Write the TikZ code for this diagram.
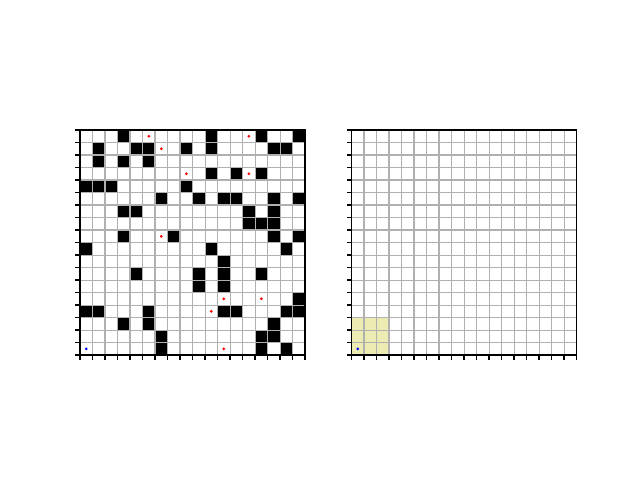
\documentclass[tikz,border=0pt]{standalone}
\usetikzlibrary{positioning}
\definecolor{gridgray}{rgb}{0.69,0.69,0.69}
\definecolor{seenyellow}{rgb}{0.92,0.92,0.70}

\begin{document}
\begin{tikzpicture}[x=0.025cm, y=-0.025cm, line width=0.75pt,
                cell/.style={x=0.3125cm, y=-0.3125cm},
                wall/.style={fill=black},
                seen/.style={fill=seenyellow},
                lines/.style={gridgray, line width=0.75pt},
                frame/.style={black, line width=0.8pt},
                goal/.style={fill=red},
                agent/.style={fill=blue}]

    \useasboundingbox (0,0) rectangle (640,480);

    %mapa: paredes, objetivos y agente
    \begin{scope}[shift={(80,130)}, cell]
        \foreach \r/\c in {0/3,0/10,0/14,0/17, 1/1,1/4,1/5,1/8,1/10,1/15,1/16, 2/1,2/3,2/5,
                3/10,3/12,3/14, 4/0,4/1,4/2,4/8, 5/6,5/9,5/11,5/12,5/15,5/17, 6/3,6/4,6/13,6/15,
                7/13,7/14,7/15, 8/3,8/7,8/15,8/17, 9/0,9/10,9/16, 10/11, 11/4,11/9,11/11,11/14,
                12/9,12/11, 13/17, 14/0,14/1,14/5,14/11,14/12,14/16,14/17, 15/3,15/5,15/15,
                16/6,16/14,16/15, 17/6,17/14,17/16}
            \fill[wall] (\c,\r) rectangle ++(1,1);
        \foreach \i in {1,...,17}{
            \draw[lines] (\i,0) -- (\i,18);
            \draw[lines] (0,\i) -- (18,\i);
        }
        \foreach \r/\c in {0/5,0/13,1/6,3/8,3/13,8/6,13/11,13/14,14/10,17/11}
            \fill[goal] (\c+0.5,\r+0.5) circle (0.12);
        \fill[agent] (0.5,17.5) circle (0.12);
        \draw[frame] (0,0) rectangle (18,18);
        \foreach \i in {0,...,18}{
            \draw[frame] (0,\i) -- ++(-0.4,0);
            \draw[frame] (\i,18) -- ++(0,0.4);
        }
    \end{scope}

    %lo que el agente ha visto
    \begin{scope}[shift={(351.5,130)}, cell]
        \fill[seen] (0,15) rectangle (3,18);
        \foreach \i in {1,...,17}{
            \draw[lines] (\i,0) -- (\i,18);
            \draw[lines] (0,\i) -- (18,\i);
        }
        \fill[agent] (0.5,17.5) circle (0.12);
        \draw[frame] (0,0) rectangle (18,18);
        \foreach \i in {0,...,18}{
            \draw[frame] (0,\i) -- ++(-0.4,0);
            \draw[frame] (\i,18) -- ++(0,0.4);
        }
    \end{scope}
\end{tikzpicture}
\end{document}
